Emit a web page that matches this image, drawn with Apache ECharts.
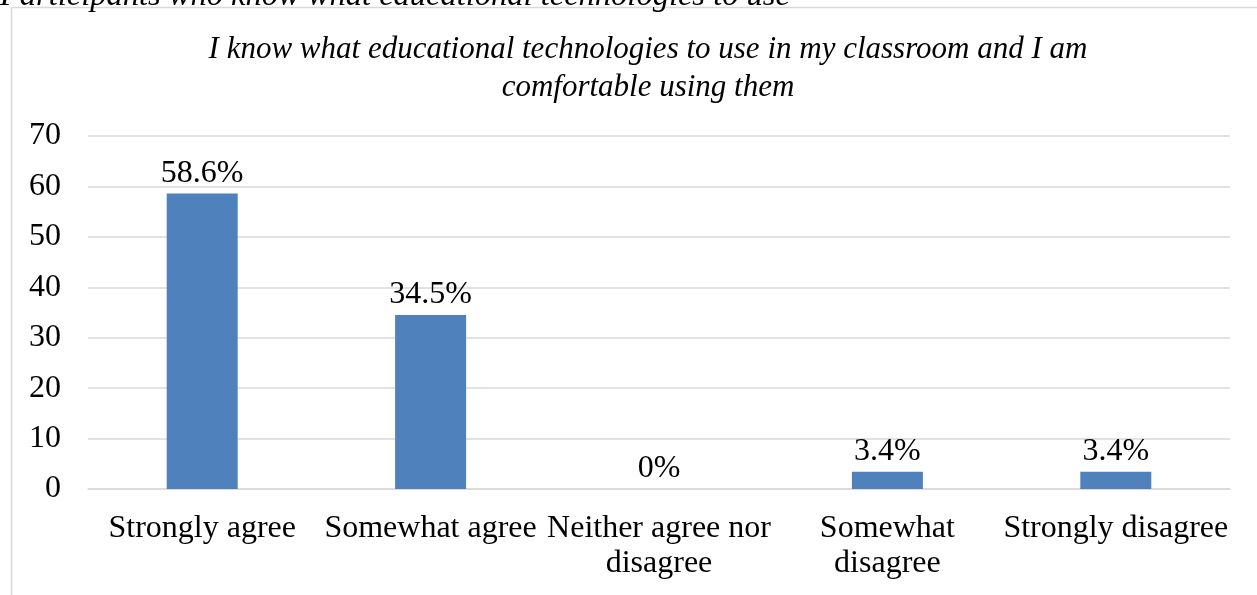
<!DOCTYPE html>
<html>
<head>
<meta charset="utf-8">
<script src="https://cdn.jsdelivr.net/npm/echarts@6/dist/echarts.min.js"></script>
<style>
html,body{margin:0;padding:0;background:#fff;}
#c{width:1257px;height:595px;}
</style>
</head>
<body>
<div id="c"></div>
<script>
const categories = ['Strongly agree', 'Somewhat agree', 'Neither agree nor\ndisagree', 'Somewhat\ndisagree', 'Strongly disagree'];
const values = [58.6, 34.5, 0, 3.4, 3.4];
const valueLabels = ['58.6%', '34.5%', '0%', '3.4%', '3.4%'];
const titleText = 'I know what educational technologies to use in my classroom and I am\ncomfortable using them';
const captionText = 'Participants who know what educational technologies to use';

const FONT = '"Liberation Serif", "Times New Roman", serif';
const chart = echarts.init(document.getElementById('c'));
chart.setOption({
  animation: false,
  backgroundColor: '#fff',
  graphic: [
    { type: 'rect', shape: { x: 11.5, y: 7.5, width: 1260, height: 600 }, style: { fill: 'none', stroke: '#d9d9d9', lineWidth: 1.5 }, z: 0 },
    { type: 'text', left: 0, top: -20, style: { text: captionText, font: 'italic 32.5px ' + FONT, fill: '#000' } }
  ],
  title: {
    text: titleText,
    left: 643, top: 26, textAlign: 'center',
    textStyle: { fontFamily: FONT, fontStyle: 'italic', fontWeight: 'normal', fontSize: 31, lineHeight: 38, color: '#000' }
  },
  grid: { left: 88, right: 27, top: 136, bottom: 106, containLabel: false },
  xAxis: {
    type: 'category', data: categories,
    axisLine: { show: true, lineStyle: { color: '#d9d9d9', width: 1.5 } },
    axisTick: { show: false },
    axisLabel: { fontFamily: FONT, fontSize: 32, lineHeight: 35, color: '#000', margin: 22, interval: 0 }
  },
  yAxis: {
    type: 'value', min: 0, max: 70, interval: 10,
    axisLine: { show: false }, axisTick: { show: false },
    splitLine: { lineStyle: { color: '#d9d9d9', width: 1.5 } },
    axisLabel: { fontFamily: FONT, fontSize: 32, color: '#000', margin: 27, padding: [5, 0, 0, 0] }
  },
  series: [{
    type: 'bar', data: values, barWidth: 71,
    itemStyle: { color: '#4f81bd' },
    label: {
      show: true, position: 'top', distance: 4,
      fontFamily: FONT, fontSize: 32, color: '#000',
      formatter: p => valueLabels[p.dataIndex]
    }
  }]
});
</script>
</body>
</html>
